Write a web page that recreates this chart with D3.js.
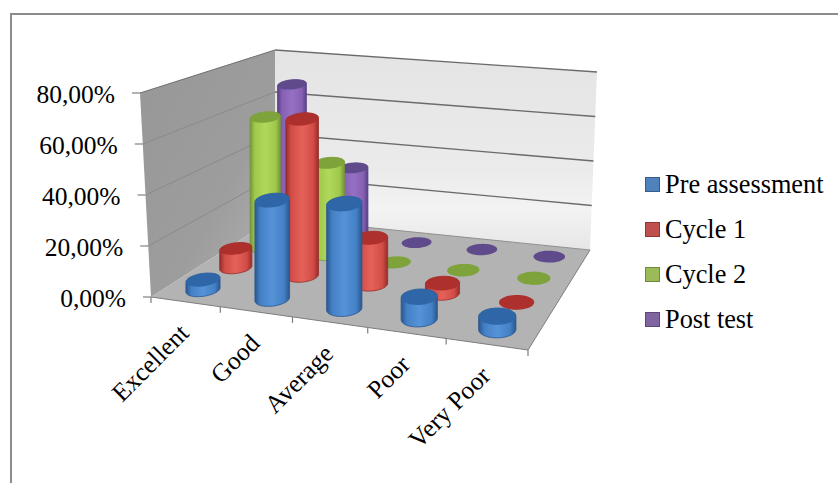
<!DOCTYPE html>
<html>
<head>
<meta charset="utf-8">
<script src="https://cdnjs.cloudflare.com/ajax/libs/d3/7.8.5/d3.min.js"></script>
<style>
html,body{margin:0;padding:0;background:#fff}
svg{display:block}
text{font-family:"Liberation Serif",serif;fill:#000}
</style>
</head>
<body>
<svg id="chart" width="838" height="483"></svg>
<script>
// Chart values, in percent
const categories = ["Excellent", "Good", "Average", "Poor", "Very Poor"];
const seriesNames = ["Pre assessment", "Cycle 1", "Cycle 2", "Post test"];
const preAssessment = [4, 39, 41, 8.5, 5];
const cycle1 = [8, 65, 19, 4, 0];
const cycle2 = [57.5, 40, 0, 0, 0];
const postTest = [67, 31, 0, 0, 0];
const yTicks = [0, 20, 40, 60, 80];

// Series palette: base, edge, highlight, cap
const palette = [
  {base:"#4480c4", edge:"#2a5790", light:"#5592d8", cap:"#2f66a8", swatch:"#4f81bd", line:"#385d8a"},
  {base:"#d24c46", edge:"#962d29", light:"#e4625a", cap:"#ad302c", swatch:"#c0504d", line:"#8c3836"},
  {base:"#a0c94c", edge:"#76963a", light:"#b0d85a", cap:"#7ea33b", swatch:"#9bbb59", line:"#71893f"},
  {base:"#8760b4", edge:"#584086", light:"#9670c2", cap:"#5f4b8b", swatch:"#8064a2", line:"#5c4776"}
];

// Box corners on screen: front-left, front-right, back-right, back-left
const floorQuad = [[151,297],[528,350],[590,250],[275,218]];
const topQuad = [[140,93],[533,135],[597,72],[275,50]];

// Unit square to quadrilateral homography
function homography(q) {
  const [[x0,y0],[x1,y1],[x2,y2],[x3,y3]] = q;
  const dx1 = x1-x2, dx2 = x3-x2, sx = x0-x1+x2-x3;
  const dy1 = y1-y2, dy2 = y3-y2, sy = y0-y1+y2-y3;
  const det = dx1*dy2-dx2*dy1;
  const g = (sx*dy2-dx2*sy)/det, h = (dx1*sy-sx*dy1)/det;
  const a = x1-x0+g*x1, b = x3-x0+h*x3, d = y1-y0+g*y1, e = y3-y0+h*y3;
  return (u,v) => {
    const w = g*u+h*v+1;
    return [(a*u+b*v+x0)/w, (d*u+e*v+y0)/w];
  };
}
const floorAt = homography(floorQuad);
const topAt = homography(topQuad);

// Library scales for the three chart axes
const uScale = d3.scaleBand().domain(categories).range([0,1]);
const vScale = d3.scaleBand().domain(seriesNames).range([0,1]);
const tScale = d3.scaleLinear().domain([0,80]).range([0,1]);

// Evens out category spacing along the width of the floor
const spread = u => u + 0.045*u*(1-u);

function project(u,v,t) {
  const a = floorAt(u,v), b = topAt(u,v);
  return [a[0]+(b[0]-a[0])*t, a[1]+(b[1]-a[1])*t];
}

const svg = d3.select("#chart");
const line = d3.line();
const closed = pts => line(pts)+"Z";

// Gradients
const defs = svg.append("defs");
palette.forEach((p,i) => {
  const g = defs.append("linearGradient").attr("id","cyl"+i).attr("x1",0).attr("x2",1).attr("y1",0).attr("y2",0);
  [[0,p.edge],[.16,p.base],[.5,p.light],[.84,p.base],[1,p.edge]].forEach(s =>
    g.append("stop").attr("offset",s[0]).attr("stop-color",s[1]));
});
const wall = defs.append("linearGradient").attr("id","backWall").attr("x1",0).attr("x2",0).attr("y1",0).attr("y2",1);
[[0,"#e4e4e4"],[.6,"#ebebeb"],[.8,"#f3f3f3"],[1,"#e6e6e6"]].forEach(s =>
  wall.append("stop").attr("offset",s[0]).attr("stop-color",s[1]));
const side = defs.append("linearGradient").attr("id","sideWall").attr("x1",0).attr("x2",1).attr("y1",0).attr("y2",1);
[[0,"#979797"],[.6,"#9d9d9d"],[1,"#b2b2b2"]].forEach(s =>
  side.append("stop").attr("offset",s[0]).attr("stop-color",s[1]));

// Outer frame, open on the far sides
svg.append("path").attr("d","M11,483V14H838").attr("fill","none").attr("stroke","#8c8c8c").attr("stroke-width",2);

// Walls and floor
svg.append("path").attr("fill","url(#sideWall)")
  .attr("d",closed([project(0,0,0),project(0,1,0),project(0,1,1),project(0,0,1)]));
svg.append("path").attr("fill","url(#backWall)")
  .attr("d",closed([project(0,1,0),project(1,1,0),project(1,1,1),project(0,1,1)]));
svg.append("path").attr("fill","#b3b3b3")
  .attr("d",closed([project(0,0,0),project(1,0,0),project(1,1,0),project(0,1,0)]));

// Gridlines across both walls, with value ticks and labels at the front edge
yTicks.forEach(v => {
  const t = tScale(v);
  const a = project(0,0,t), b = project(0,1,t), c = project(1,1,t);
  if (v > 0) {
    svg.append("path").attr("d",line([a,b])).attr("fill","none")
      .attr("stroke",v===80?"#6e6e6e":"#8a8a8a").attr("stroke-width",1);
    svg.append("path").attr("d",line([b,c])).attr("fill","none")
      .attr("stroke","#6b6b6b").attr("stroke-width",1.3);
  } else {
    svg.append("path").attr("d",line([b,c])).attr("fill","none")
      .attr("stroke","#8f8f8f").attr("stroke-width",1);
  }
  svg.append("path").attr("d",line([[a[0]-8,a[1]],a])).attr("stroke","#808080").attr("stroke-width",1.2);
  svg.append("text").attr("x",a[0]-25).attr("y",a[1]+9.5).attr("text-anchor","end")
    .attr("font-size",25.5).text(d3.format(".2f")(v).replace(".",",")+"%");
});

// Floor edges and category ticks
svg.append("path").attr("d",line([project(0,0,0),project(1,0,0),project(1,1,0)]))
  .attr("fill","none").attr("stroke","#7d7d7d").attr("stroke-width",1);
categories.map(c => uScale(c)).concat([1]).forEach(u => {
  const p = project(spread(u),0,0);
  svg.append("path").attr("d",line([p,[p[0],p[1]+6]])).attr("stroke","#7d7d7d").attr("stroke-width",1.2);
});

// One cylinder: a floor circle swept straight up to its value
const radiusU = 0.043, radiusV = 0.07;
const circleAngles = d3.range(48).map(i => i/48*2*Math.PI);
function ring(u,v) {
  return circleAngles.map(a => project(u+radiusU*Math.cos(a), v+radiusV*Math.sin(a), 0));
}

// Rows are painted from the back of the floor to the front
const allSeries = [preAssessment, cycle1, cycle2, postTest];
d3.range(3,-1,-1).forEach(si => {
  const p = palette[si], name = seriesNames[si];
  const g = svg.append("g").attr("class","series");
  categories.forEach((cat,ci) => {
    const u = spread(uScale(cat)+uScale.bandwidth()/2);
    const v = vScale(name)+vScale.bandwidth()/2;
    const val = allSeries[si][ci];
    const rise = project(u,v,tScale(val))[1]-project(u,v,0)[1];
    const bottom = ring(u,v), top = bottom.map(q => [q[0],q[1]+rise]);
    if (val > 0) {
      g.append("path").attr("d",closed(d3.polygonHull(bottom.concat(top))))
        .attr("fill",`url(#cyl${si})`).attr("stroke",p.edge).attr("stroke-width",0.8);
    }
    g.append("path").attr("d",closed(top)).attr("fill",p.cap);
  });
});

// Category labels, rotated up to the right
categories.forEach(cat => {
  const p = project(spread(uScale(cat)+uScale.bandwidth()/2),0,0);
  svg.append("text").attr("font-size",25.5).attr("text-anchor","end")
    .attr("transform",`translate(${p[0]+5},${p[1]+33}) rotate(-45)`).text(cat);
});

// Legend
const legendY = d3.scalePoint().domain(seriesNames).range([184.5,319.5]);
seriesNames.forEach((name,i) => {
  const y = legendY(name);
  svg.append("rect").attr("x",645.5).attr("y",y-7).attr("width",14).attr("height",14)
    .attr("fill",palette[i].swatch).attr("stroke",palette[i].line).attr("stroke-width",1);
  svg.append("text").attr("x",665).attr("y",y+8.5).attr("font-size",26.3).text(name);
});
</script>
</body>
</html>
